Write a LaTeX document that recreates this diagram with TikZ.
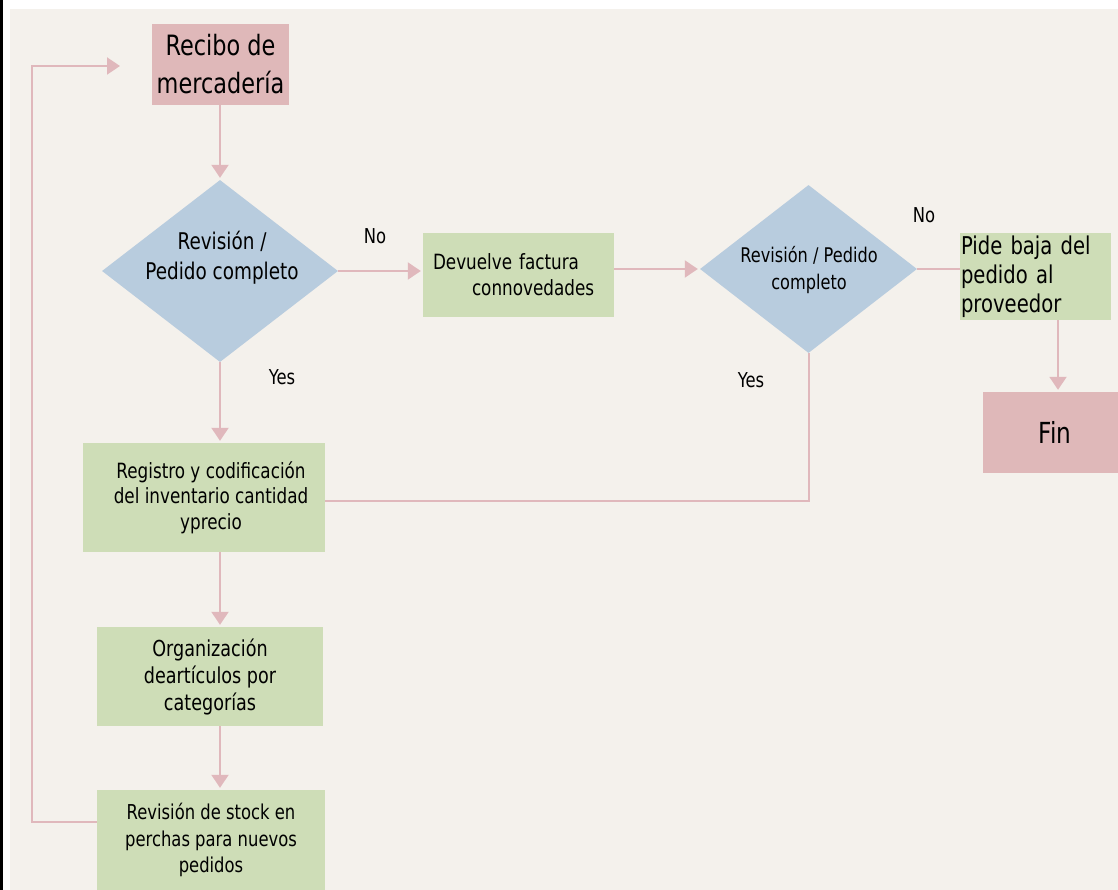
\documentclass[tikz,border=0pt]{standalone}
\usepackage{fontspec}
\setmainfont{DejaVu Sans}[FakeStretch=0.8]
\usetikzlibrary{shapes.geometric,arrows.meta,calc}

\definecolor{paper}{HTML}{F4F1EC}
\definecolor{rosefill}{HTML}{DFB8B9}
\definecolor{greenfill}{HTML}{CEDDB7}
\definecolor{bluefill}{HTML}{B8CCDE}
\definecolor{wire}{HTML}{E0B8BC}

\newcommand\fsz[2]{\fontsize{#1}{#2}\selectfont}

\begin{document}
\begin{tikzpicture}[x=1pt,y=-1pt,
  procbox/.style={rectangle, draw=none, fill=greenfill, inner sep=1pt, align=center, text=black},
  termbox/.style={rectangle, draw=none, fill=rosefill, inner sep=1pt, align=center, text=black},
  decision/.style={diamond, draw=none, fill=bluefill, inner sep=0pt},
  plain/.style={inner sep=0pt, align=center, text=black},
  link/.style={draw=wire, line width=2pt},
  flow/.style={link, -{Triangle[width=17pt,length=13pt]}, shorten >=2pt}
]
% page and paper
\fill[white] (0,0) rectangle (1118,890);
\fill[black] (0,0) rectangle (2.5,890);
\fill[paper] (10,9) rectangle (1118,890);
\useasboundingbox (0,0) rectangle (1118,890);

% main column
\node[termbox, minimum width=137pt, minimum height=81pt, font=\fsz{28}{38}]
  (recibo) at (220.5,64.5) {Recibo de\\mercadería};

\node[decision, minimum width=236pt, minimum height=182pt] (d1) at (220,271) {};
\node[plain, font=\fsz{23}{30}] (d1text) at (222,258) {Revisión /\\Pedido completo};

\node[procbox, minimum width=242pt, minimum height=109pt, font=\fsz{21}{25.5}]
  (reg) at (204,497.5) {\hspace*{14pt}Registro y codificación\\\hspace*{14pt}del inventario cantidad\\\hspace*{14pt}yprecio};

\node[procbox, minimum width=226pt, minimum height=99pt, font=\fsz{22}{27}]
  (org) at (210,676.5) {Organización\\deartículos por\\categorías};

\node[procbox, minimum width=228pt, minimum height=100pt, font=\fsz{20.5}{26.5}]
  (stock) at (211,840) {Revisión de stock en\\perchas para nuevos\\pedidos};

% right branch
\node[procbox, minimum height=84pt, text width=171pt, inner xsep=10pt, align=left, font=\fsz{21}{26}]
  (dev) at (518.5,275) {Devuelve factura\\\hspace*{39pt}connovedades};

\node[decision, minimum width=217pt, minimum height=168pt] (d2) at (808.5,269) {};
\node[plain, font=\fsz{20.2}{27}] (d2text) at (809,270) {Revisión / Pedido\\completo};

\node[procbox, minimum height=87pt, text width=149pt, inner xsep=1pt, align=left, font=\fsz{24.5}{29}]
  (pide) at (1035.5,276.5) {Pide baja del\\pedido al\\proveedor};

\node[termbox, minimum width=135pt, minimum height=81pt, font=\fsz{29}{34}]
  (fin) at (1050.5,432.5) {\hspace*{9pt}Fin};

% branch labels
\node[plain, font=\fsz{20.5}{24}] (no1) at (375,236) {No};
\node[plain, font=\fsz{20.5}{24}] (yes1) at (282,377) {Yes};
\node[plain, font=\fsz{20.5}{24}] (no2) at (924,215) {No};
\node[plain, font=\fsz{20.5}{24}] (yes2) at (751,380) {Yes};

% connectors
\coordinate (pidefoot) at ($(pide.south)+(22.5,0)$);
\coordinate (regjoin) at ($(reg.east)+(0,3.5)$);
\coordinate (stockout) at ($(stock.west)+(0,-18)$);

\draw[flow] (recibo.south -| d1.north) -- (d1.north);
\draw[flow] (d1.east) -- (d1.east -| dev.west);
\draw[flow] (d2.west -| dev.east) -- (d2.west);
\draw[link] (d2.east) -- (d2.east -| pide.west);
\draw[flow] (pidefoot) -- (pidefoot |- fin.north);
\draw[flow] (d1.south) -- (d1.south |- reg.north);
\draw[link] (d2.south) |- (regjoin);
\draw[flow] (d1.south |- reg.south) -- (d1.south |- org.north);
\draw[flow] (d1.south |- org.south) -- (d1.south |- stock.north);

% loop back to the start
\coordinate (loopend) at (120,66);
\draw[flow, shorten >=0pt] (stockout) -| (32,66) -- (loopend);
\end{tikzpicture}
\end{document}
